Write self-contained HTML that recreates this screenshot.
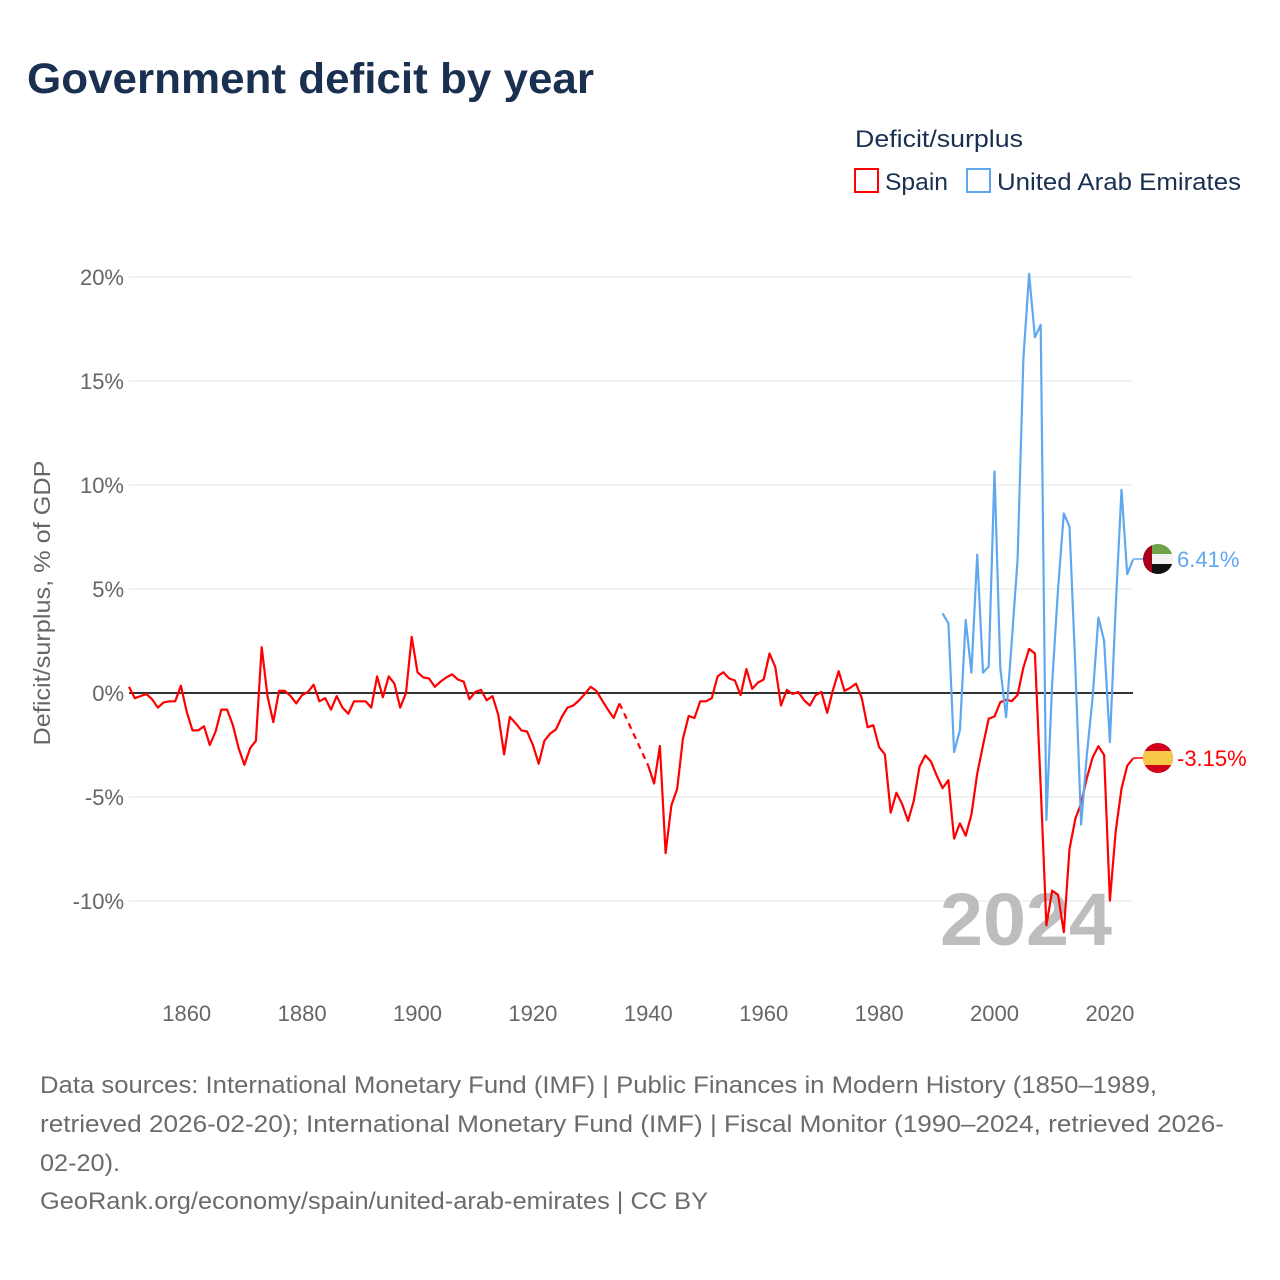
<!DOCTYPE html>
<html><head><meta charset="utf-8"><style>
html,body{margin:0;padding:0;background:#fff;}
svg{display:block;font-family:"Liberation Sans",sans-serif;}
</style></head><body>
<svg id="chart" width="1280" height="1280" viewBox="0 0 1280 1280" xmlns="http://www.w3.org/2000/svg">
<rect width="1280" height="1280" fill="#fff"/>
<text x="27" y="93" font-size="43" font-weight="bold" fill="#1a3050" textLength="567" lengthAdjust="spacingAndGlyphs">Government deficit by year</text>
<text x="855" y="147" font-size="24" fill="#1a3050" textLength="168" lengthAdjust="spacingAndGlyphs">Deficit/surplus</text>
<g>
<rect x="855" y="169" width="23" height="23" fill="none" stroke="#ff0000" stroke-width="2"/>
<text x="885" y="190" font-size="24" fill="#1a3050" textLength="63" lengthAdjust="spacingAndGlyphs">Spain</text>
</g>
<g>
<rect x="967" y="169" width="23" height="23" fill="none" stroke="#5fa8ef" stroke-width="2"/>
<text x="997" y="190" font-size="24" fill="#1a3050" textLength="244" lengthAdjust="spacingAndGlyphs">United Arab Emirates</text>
</g>
<text transform="translate(50,603) rotate(-90)" text-anchor="middle" font-size="23" fill="#666" textLength="285" lengthAdjust="spacingAndGlyphs">Deficit/surplus, % of GDP</text>
<g id="grid"></g>
<text x="1026" y="945" text-anchor="middle" font-size="74" font-weight="bold" fill="#bdbdbd" textLength="172" lengthAdjust="spacingAndGlyphs">2024</text>
<g id="series"></g>
<g id="xlabels"></g>
<g font-size="24" fill="#6b6b6b">
<text x="40" y="1093" textLength="1117" lengthAdjust="spacingAndGlyphs">Data sources: International Monetary Fund (IMF) | Public Finances in Modern History (1850–1989,</text>
<text x="40" y="1132" textLength="1184" lengthAdjust="spacingAndGlyphs">retrieved 2026-02-20); International Monetary Fund (IMF) | Fiscal Monitor (1990–2024, retrieved 2026-</text>
<text x="40" y="1171" textLength="80" lengthAdjust="spacingAndGlyphs">02-20).</text>
<text x="40" y="1209" textLength="668" lengthAdjust="spacingAndGlyphs">GeoRank.org/economy/spain/united-arab-emirates | CC BY</text>
</g>
</svg>
<script>
const yTicks = [20, 15, 10, 5, 0, -5, -10];
const xTicks = [1860, 1880, 1900, 1920, 1940, 1960, 1980, 2000, 2020];
const spainStart = 1850;
const spainValues = [0.3,-0.25,-0.15,-0.05,-0.3,-0.7,-0.45,-0.4,-0.4,0.35,
-0.9,-1.8,-1.8,-1.6,-2.5,-1.85,-0.8,-0.8,-1.55,-2.65,
-3.45,-2.65,-2.3,2.2,-0.15,-1.4,0.1,0.1,-0.15,-0.5,
-0.1,0.05,0.4,-0.4,-0.25,-0.8,-0.15,-0.7,-1.0,-0.4,
-0.4,-0.4,-0.7,0.8,-0.2,0.8,0.45,-0.7,0,2.7,
1.0,0.75,0.7,0.3,0.55,0.75,0.9,0.65,0.55,-0.3,
0.05,0.15,-0.35,-0.15,-1.05,-2.95,-1.15,-1.45,-1.8,-1.85,
-2.5,-3.4,-2.3,-1.95,-1.75,-1.15,-0.7,-0.6,-0.35,-0.05,
0.3,0.1,-0.35,-0.8,-1.2,-0.5,null,null,null,null,
-3.5,-4.35,-2.55,-7.7,-5.4,-4.6,-2.2,-1.1,-1.2,-0.4,
-0.4,-0.25,0.8,1.0,0.7,0.6,-0.1,1.15,0.2,0.5,
0.65,1.9,1.25,-0.6,0.15,-0.05,0.05,-0.35,-0.6,-0.1,
0.05,-0.95,0.15,1.05,0.1,0.25,0.45,-0.25,-1.65,-1.55,
-2.6,-2.95,-5.75,-4.8,-5.35,-6.15,-5.2,-3.55,-3.0,-3.3,
-3.98,-4.57,-4.19,-7.0,-6.27,-6.86,-5.85,-3.88,-2.52,-1.23,
-1.13,-0.44,-0.33,-0.39,-0.09,1.23,2.12,1.9,-4.5,-11.17,
-9.5,-9.7,-11.5,-7.5,-6.06,-5.3,-4.1,-3.1,-2.56,-2.98,
-9.98,-6.65,-4.6,-3.5,-3.15];
const uaeStart = 1991;
const uaeValues = [3.83,3.35,-2.84,-1.79,3.52,0.98,6.65,0.98,1.27,
10.65,1.2,-1.17,2.5,6.44,16.1,20.15,17.1,17.7,-6.1,
0.5,4.98,8.63,8.0,1.3,-6.32,-3.0,-0.23,3.63,2.52,
-2.36,4.14,9.77,5.71,6.41];

const NS = "http://www.w3.org/2000/svg";
const X0 = 129, X1 = 1133, Y0 = 693, PXV = 20.8;
function xScale(yr){ return X0 + (yr - 1850) * (X1 - X0) / 174; }
function yScale(v){ return Y0 - v * PXV; }
function mk(tag, attrs, parent){ const e = document.createElementNS(NS, tag); for (const k in attrs) e.setAttribute(k, attrs[k]); parent.appendChild(e); return e; }

const grid = document.getElementById('grid');
yTicks.forEach(t => {
  const l = mk('line', {x1: X0, x2: X1, y1: yScale(t), y2: yScale(t), stroke: t === 0 ? '#333' : '#e6e6e6', 'stroke-width': t === 0 ? 2 : 1}, grid);
  
  
  const tx = mk('text', {x: 124, y: yScale(t) + 8, 'text-anchor': 'end', 'font-size': 22, fill: '#666'}, grid);
  tx.textContent = t + '%';
  
  
});
const xl = document.getElementById('xlabels');
xTicks.forEach(t => {
  const tx = mk('text', {x: xScale(t), y: 1021, 'text-anchor': 'middle', 'font-size': 22, fill: '#666'}, xl);
  tx.textContent = t;
  
  
});

const sg = document.getElementById('series');
function drawSeries(start, vals, color, name){
  let d = '', pen = false, last = null, dash = '';
  vals.forEach((v, i) => {
    if (v === null) { pen = false; return; }
    const px = xScale(start + i).toFixed(1), py = yScale(v).toFixed(1);
    if (!pen && last) dash += 'M' + last[0] + ',' + last[1] + 'L' + px + ',' + py;
    d += (pen ? 'L' : 'M') + px + ',' + py;
    pen = true; last = [px, py];
  });
  const p = mk('path', {d: d, fill: 'none', stroke: color, 'stroke-width': 2.2, 'stroke-linejoin': 'round'}, sg);
  
  
  if (dash) {
    const q = mk('path', {d: dash, fill: 'none', stroke: color, 'stroke-width': 2.2, 'stroke-dasharray': '6,5'}, sg);
    
    
  }
  return last;
}
const sEnd = drawSeries(spainStart, spainValues, '#ff0000', 'spain');
const uEnd = drawSeries(uaeStart, uaeValues, '#5fa8ef', 'uae');

function flag(cy, kind, label, color){
  const g = mk('g', {}, sg);
  
  
  const cx = 1158, r = 15;
  mk('line', {x1: 1133, x2: cx - r, y1: cy, y2: cy, stroke: color, 'stroke-width': 1.5}, g);
  const id = 'clip-' + kind;
  const cp = mk('clipPath', {id: id}, g);
  mk('circle', {cx: cx, cy: cy, r: r}, cp);
  const f = mk('g', {'clip-path': 'url(#' + id + ')'}, g);
  if (kind === 'uae') {
    mk('rect', {x: cx - r, y: cy - r, width: 2 * r, height: 10, fill: '#6fa34a'}, f);
    mk('rect', {x: cx - r, y: cy - 5, width: 2 * r, height: 10, fill: '#f2f2f2'}, f);
    mk('rect', {x: cx - r, y: cy + 5, width: 2 * r, height: 10, fill: '#111'}, f);
    mk('rect', {x: cx - r, y: cy - r, width: 9, height: 2 * r, fill: '#a8001a'}, f);
  } else {
    mk('rect', {x: cx - r, y: cy - r, width: 2 * r, height: 2 * r, fill: '#d0021b'}, f);
    mk('rect', {x: cx - r, y: cy - 7, width: 2 * r, height: 14, fill: '#f7c948'}, f);
  }
  const t = mk('text', {x: 1177, y: cy + 8, 'font-size': 22, fill: color}, g);
  t.textContent = label;
}
flag(559, 'uae', uaeValues[uaeValues.length - 1].toFixed(2) + '%', '#5fa8ef');
flag(758, 'spain', spainValues[spainValues.length - 1].toFixed(2) + '%', '#ff0000');
</script>
</body></html>
